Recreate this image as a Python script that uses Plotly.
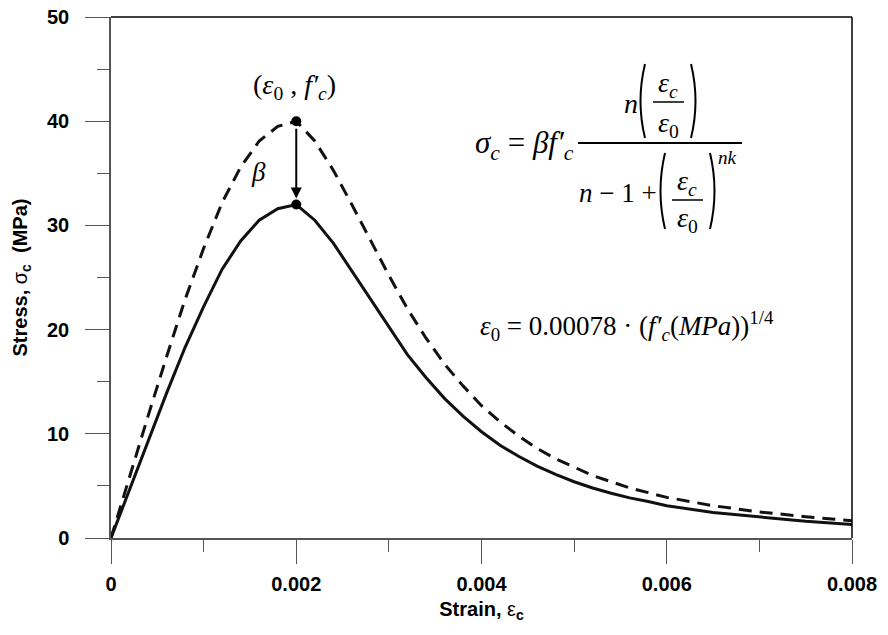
import plotly.graph_objects as go

# ---- data ----
strain = [0, 0.0002, 0.0004, 0.0006, 0.0008, 0.001, 0.0012, 0.0014, 0.0016, 0.0018, 0.002,
          0.0022, 0.0024, 0.0026, 0.0028, 0.003, 0.0032, 0.0034, 0.0036, 0.0038, 0.004,
          0.0042, 0.0044, 0.0046, 0.0048, 0.005, 0.0052, 0.0054, 0.0056, 0.0058, 0.006,
          0.0065, 0.007, 0.0075, 0.008]
stress_dashed = [0, 5.9, 11.7, 17.4, 22.9, 27.8, 32.2, 35.6, 38.1, 39.5, 40.0,
                 38.1, 35.3, 32.0, 28.6, 25.2, 22.0, 19.2, 16.7, 14.6, 12.7,
                 11.15, 9.8, 8.6, 7.6, 6.8, 6.0, 5.4, 4.8, 4.35, 3.9,
                 3.1, 2.5, 2.05, 1.65]
stress_solid = [0, 4.7, 9.4, 13.9, 18.3, 22.2, 25.8, 28.5, 30.5, 31.6, 32.0,
                30.5, 28.3, 25.6, 22.9, 20.2, 17.6, 15.4, 13.4, 11.7, 10.2,
                8.9, 7.85, 6.9, 6.1, 5.4, 4.8, 4.3, 3.85, 3.5, 3.1,
                2.45, 2.0, 1.6, 1.3]
peak_strain = [0.002, 0.002]
peak_stress = [40.0, 32.0]

x_tickvals = [0, 0.002, 0.004, 0.006, 0.008]
x_ticktext = ["0", "0.002", "0.004", "0.006", "0.008"]
y_tickvals = [0, 10, 20, 30, 40, 50]
y_ticktext = ["0", "10", "20", "30", "40", "50"]

# body margin is removed by post_script; plot area at screen x 111..852, y 17..538
W, H = 888, 635
SX0, SX1, SY0, SY1 = 111, 852, 17, 538
ML, MR, MT, MB = SX0, W - SX1, SY0, H - SY1


def px(x):
    return (x - SX0) / (SX1 - SX0)


def py(y):
    return (SY1 - y) / (SY1 - SY0)


SERIF = "Liberation Serif, Times New Roman, serif"
SANS = "Liberation Sans, Arial, sans-serif"

fig = go.Figure()
fig.add_trace(go.Scatter(x=strain, y=stress_dashed, mode="lines",
                         line=dict(color="#111", width=3, dash="13px,8px"),
                         showlegend=False, hoverinfo="skip", cliponaxis=False))
fig.add_trace(go.Scatter(x=strain, y=stress_solid, mode="lines",
                         line=dict(color="#111", width=3),
                         showlegend=False, hoverinfo="skip", cliponaxis=False))
fig.add_trace(go.Scatter(x=peak_strain, y=peak_stress, mode="markers",
                         marker=dict(color="#000", size=10),
                         showlegend=False, hoverinfo="skip"))

annotations = []
annotations.append(dict(x=peak_strain[1], y=peak_stress[1], ax=peak_strain[0], ay=peak_stress[0],
                        xref="x", yref="y", axref="x", ayref="y", text="", showarrow=True,
                        arrowhead=2, arrowsize=1.1, arrowwidth=2, arrowcolor="#000",
                        standoff=6, startstandoff=6))


def txt(x, y, s, size=24, xanchor="center", family=SERIF, color="#000"):
    annotations.append(dict(x=px(x), y=py(y), xref="paper", yref="paper", text=s,
                            showarrow=False, xanchor=xanchor, yanchor="middle",
                            font=dict(family=family, size=size, color=color)))


# labels near the peak
txt(294, 86, "(<i>ε</i><sub>0</sub> , <i>f′</i><sub><i>c</i></sub>)", size=28)
txt(258, 172, "<i>β</i>", size=27)

# main equation
txt(576, 145, "<i>σ</i><sub><i>c</i></sub> = <i>βf′</i><sub><i>c</i></sub>", size=31, xanchor="right")
txt(631, 104, "<i>n</i>", size=28)
txt(668, 84, "<i>ε</i><sub><i>c</i></sub>", size=28)
txt(668, 124, "<i>ε</i><sub>0</sub>", size=28)
txt(618, 193, "<i>n</i> − 1 +", size=27)
txt(687, 183, "<i>ε</i><sub><i>c</i></sub>", size=28)
txt(687, 219, "<i>ε</i><sub>0</sub>", size=28)
txt(727, 157, "<i>nk</i>", size=19)

# second equation
txt(478, 326, "<i>ε</i><sub>0</sub> = 0.00078 · (<i>f′</i><sub><i>c</i></sub>(<i>MPa</i>))<sup>1/4</sup>",
    size=27, xanchor="left")

shapes = []


def hline(x0, x1, y, w=1.5):
    shapes.append(dict(type="line", xref="paper", yref="paper", x0=px(x0), x1=px(x1),
                       y0=py(y), y1=py(y), line=dict(color="#000", width=w)))


def paren(x, y0, y1, left=True, bulge=9):
    ym = (y0 + y1) / 2
    cx = x - bulge if left else x + bulge
    path = f"M {px(x)} {py(y0)} Q {px(cx)} {py(ym)} {px(x)} {py(y1)}"
    shapes.append(dict(type="path", xref="paper", yref="paper", path=path,
                       line=dict(color="#000", width=2)))


hline(578, 742, 143, 2)
hline(653, 684, 102)
hline(672, 703, 200)
paren(645, 64, 138, True)
paren(691, 64, 138, False)
paren(665, 153, 229, True)
paren(710, 153, 229, False)

# frame top and right
shapes.append(dict(type="line", xref="paper", yref="paper", x0=0, x1=1, y0=1, y1=1,
                   line=dict(color="#000", width=1.5)))
shapes.append(dict(type="line", xref="paper", yref="paper", x0=1, x1=1, y0=0, y1=1,
                   line=dict(color="#000", width=1.5)))

fig.update_layout(
    width=W, height=H,
    margin=dict(l=ML, r=MR, t=MT, b=MB),
    paper_bgcolor="white", plot_bgcolor="white",
    annotations=annotations, shapes=shapes,
    xaxis=dict(range=[0, 0.008], tickvals=x_tickvals, ticktext=x_ticktext, automargin=False,
               showgrid=False, zeroline=False, showline=True, linecolor="#555", linewidth=1.5,
               ticks="outside", ticklen=24, tickwidth=1.2, tickcolor="#555", ticklabelstandoff=3,
               ticklabeloverflow="allow",
               minor=dict(dtick=0.001, ticks="outside", ticklen=12, tickwidth=1.2, tickcolor="#555"),
               tickfont=dict(family=SANS, size=20, color="#000", weight="bold"),
               title=dict(text="Strain, <span style='font-weight:normal'>ε</span><sub>c</sub>",
                          font=dict(family=SANS, size=20, color="#000", weight="bold"),
                          standoff=8)),
    yaxis=dict(range=[0, 50], tickvals=y_tickvals, ticktext=y_ticktext, automargin=False,
               showgrid=False, zeroline=False, showline=True, linecolor="#555", linewidth=1.5,
               ticks="outside", ticklen=24, tickwidth=1.2, tickcolor="#555", ticklabelstandoff=12,
               ticklabeloverflow="allow",
               minor=dict(dtick=5, ticks="outside", ticklen=12, tickwidth=1.2, tickcolor="#555"),
               tickfont=dict(family=SANS, size=20, color="#000", weight="bold"),
               title=dict(text="Stress, <span style='font-weight:normal'>σ</span><sub>c</sub>  (MPa)",
                          font=dict(family=SANS, size=20, color="#000", weight="bold"),
                          standoff=14)),
)

fig.write_html("out.html", config={"displayModeBar": False},
               post_script="document.body.style.margin='0';document.body.style.overflow='hidden';")
